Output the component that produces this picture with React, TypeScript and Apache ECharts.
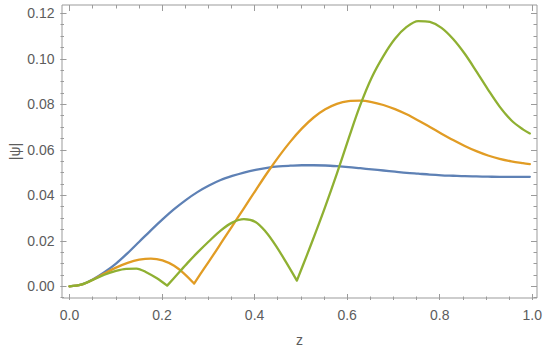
import React, { useEffect, useRef } from "react";
import * as echarts from "echarts";

const zBlue = [0, 0.025, 0.05, 0.075, 0.1, 0.125, 0.15, 0.175, 0.2, 0.225, 0.25, 0.275, 0.3, 0.325, 0.35, 0.375, 0.4, 0.425, 0.45, 0.475, 0.5, 0.525, 0.55, 0.575, 0.6, 0.625, 0.65, 0.675, 0.7, 0.725, 0.75, 0.775, 0.8, 0.825, 0.85, 0.875, 0.9, 0.925, 0.95, 0.975, 0.99];
const psiBlue = [0, 0.0007, 0.003, 0.0062, 0.01, 0.0146, 0.0196, 0.0246, 0.0294, 0.0339, 0.0379, 0.0414, 0.0443, 0.0467, 0.0485, 0.05, 0.0512, 0.0521, 0.0527, 0.053, 0.0532, 0.0532, 0.0531, 0.0528, 0.0524, 0.0519, 0.0514, 0.0509, 0.0504, 0.0499, 0.0495, 0.0491, 0.0488, 0.0486, 0.0484, 0.0483, 0.0482, 0.0481, 0.0481, 0.0481, 0.0481];

const zOrange = [0, 0.025, 0.05, 0.075, 0.1, 0.125, 0.15, 0.175, 0.2, 0.225, 0.247, 0.268, 0.29, 0.31, 0.33, 0.35, 0.375, 0.4, 0.425, 0.45, 0.475, 0.5, 0.525, 0.55, 0.575, 0.6, 0.625, 0.65, 0.675, 0.7, 0.725, 0.75, 0.775, 0.8, 0.825, 0.85, 0.875, 0.9, 0.925, 0.95, 0.975, 0.99];
const psiOrange = [0, 0.0007, 0.0029, 0.0056, 0.0082, 0.0103, 0.0117, 0.0122, 0.0114, 0.009, 0.0055, 0.0012, 0.008, 0.014, 0.0203, 0.0265, 0.0343, 0.0421, 0.0498, 0.057, 0.0636, 0.0694, 0.0742, 0.0778, 0.0802, 0.0814, 0.0816, 0.081, 0.0797, 0.0779, 0.0756, 0.0729, 0.07, 0.0671, 0.0643, 0.0617, 0.0594, 0.0575, 0.056, 0.0549, 0.0541, 0.0537];
const orangeZeros = [0.268];

const zGreen = [0, 0.025, 0.05, 0.075, 0.1, 0.122, 0.144, 0.166, 0.188, 0.21, 0.232, 0.254, 0.276, 0.3, 0.325, 0.35, 0.375, 0.4, 0.422, 0.444, 0.466, 0.489, 0.51, 0.53, 0.55, 0.575, 0.6, 0.625, 0.65, 0.675, 0.7, 0.725, 0.75, 0.775, 0.8, 0.825, 0.85, 0.875, 0.9, 0.925, 0.95, 0.975, 0.99];
const psiGreen = [0, 0.0007, 0.0028, 0.0051, 0.0068, 0.0077, 0.0078, 0.0061, 0.0035, 0.0003, 0.0053, 0.0103, 0.015, 0.0198, 0.0245, 0.028, 0.0295, 0.0283, 0.024, 0.0178, 0.0105, 0.0025, 0.0134, 0.024, 0.035, 0.0495, 0.0648, 0.0795, 0.0918, 0.1012, 0.1088, 0.114, 0.1166, 0.1162, 0.1136, 0.1087, 0.1022, 0.0945, 0.0865, 0.079, 0.073, 0.069, 0.0672];
const greenZeros = [0.21, 0.489];

const xTickLabels = ["0.0", "0.2", "0.4", "0.6", "0.8", "1.0"];
const yTickLabels = ["0.00", "0.02", "0.04", "0.06", "0.08", "0.10", "0.12"];

const FRAME = "#9b9b9b";
const LABEL = "#5c5c5c";
const FONT = "'Liberation Sans', Arial, sans-serif";

// pairs the values; at each zero of psi (a cusp of |psi|) the curve is broken so the cusp stays sharp
const pair = (xs: number[], ys: number[], zeros: number[] = []) => {
  const out: any[] = [];
  xs.forEach((x, i) => {
    out.push([x, ys[i]]);
    if (zeros.includes(x)) {
      out.push([x, null]);
      out.push([x, ys[i]]);
    }
  });
  return out;
};

export default function App() {
  const ref = useRef<HTMLDivElement>(null);
  useEffect(() => {
    if (!ref.current) return;
    const chart = echarts.init(ref.current, undefined, { renderer: "svg" });
    const hiddenX = (gridIndex: number, extra: any = {}) => ({
      type: "value", gridIndex, min: 0, max: 1, show: false, ...extra,
    });
    const hiddenY = (gridIndex: number, extra: any = {}) => ({
      type: "value", gridIndex, min: 0, max: 0.12, show: false, ...extra,
    });
    const tickStyle = { color: FRAME, width: 1 };
    const line = (xs: number[], ys: number[], zeros: number[], color: string) => ({
      type: "line", xAxisIndex: 0, yAxisIndex: 0, data: pair(xs, ys, zeros),
      smooth: 0.33, showSymbol: false, clip: false, connectNulls: false,
      lineStyle: { color, width: 2.3, join: "round", cap: "round" }, itemStyle: { color },
    });
    chart.setOption({
      animation: false,
      backgroundColor: "#ffffff",
      textStyle: { fontFamily: FONT },
      grid: [
        { left: 69.5, right: 10.5, top: 13.3, bottom: 65.7 },
        { left: 69.5, right: 10.5, top: 5, bottom: 52 },
        { left: 60.5, right: 8, top: 13.3, bottom: 65.7 },
        { left: 60.5, right: 8, top: 13.3, bottom: 54.3 },
        { left: 60.5, right: 8, top: 5, bottom: 52, show: true, borderColor: FRAME, borderWidth: 1, backgroundColor: "transparent" },
      ],
      xAxis: [
        hiddenX(0),
        {
          type: "value", gridIndex: 1, min: 0, max: 1, interval: 0.2, position: "bottom",
          axisLine: { show: false },
          axisTick: { show: true, inside: true, length: 6, lineStyle: tickStyle },
          minorTick: { show: true, splitNumber: 4, length: 3.5, lineStyle: tickStyle },
          splitLine: { show: false },
          axisLabel: {
            show: true, margin: 8, color: LABEL, fontSize: 14, fontFamily: FONT,
            formatter: (v: number) => xTickLabels[Math.round(v / 0.2)] ?? "",
          },
        },
        {
          type: "value", gridIndex: 1, min: 0, max: 1, interval: 0.2, position: "top",
          axisLine: { show: false },
          axisTick: { show: true, inside: true, length: 6, lineStyle: tickStyle },
          minorTick: { show: true, splitNumber: 4, length: 3.5, lineStyle: tickStyle },
          splitLine: { show: false },
          axisLabel: { show: false },
        },
        hiddenX(2),
        hiddenX(3),
        {
          type: "value", gridIndex: 4, min: 0, max: 1, position: "bottom",
          name: "z", nameLocation: "middle", nameGap: 35,
          nameTextStyle: { color: LABEL, fontSize: 14, fontFamily: FONT },
          axisLine: { show: false }, axisTick: { show: false }, axisLabel: { show: false }, splitLine: { show: false },
        },
      ],
      yAxis: [
        hiddenY(0),
        hiddenY(1),
        {
          type: "value", gridIndex: 2, min: 0, max: 0.12, interval: 0.02, position: "left",
          axisLine: { show: false },
          axisTick: { show: true, inside: true, length: 6, lineStyle: tickStyle },
          splitLine: { show: false },
          axisLabel: {
            show: true, margin: 6, color: LABEL, fontSize: 14, fontFamily: FONT,
            formatter: (v: number) => yTickLabels[Math.round(v / 0.02)] ?? "",
          },
        },
        {
          type: "value", gridIndex: 2, min: 0, max: 0.12, interval: 0.02, position: "right",
          axisLine: { show: false },
          axisTick: { show: true, inside: true, length: 6, lineStyle: tickStyle },
          splitLine: { show: false },
          axisLabel: { show: false },
        },
        {
          type: "value", gridIndex: 3, min: -0.005, max: 0.12, interval: 0.005, position: "left",
          axisLine: { show: false },
          axisTick: { show: true, inside: true, length: 3.5, lineStyle: tickStyle },
          splitLine: { show: false },
          axisLabel: { show: false },
        },
        {
          type: "value", gridIndex: 3, min: -0.005, max: 0.12, interval: 0.005, position: "right",
          axisLine: { show: false },
          axisTick: { show: true, inside: true, length: 3.5, lineStyle: tickStyle },
          splitLine: { show: false },
          axisLabel: { show: false },
        },
        {
          type: "value", gridIndex: 4, min: 0, max: 1, position: "left",
          name: "|ψ|", nameLocation: "middle", nameGap: 40, nameRotate: 90,
          nameTextStyle: { color: LABEL, fontSize: 14, fontFamily: FONT },
          axisLine: { show: false }, axisTick: { show: false }, axisLabel: { show: false }, splitLine: { show: false },
        },
      ],
      series: [
        line(zBlue, psiBlue, [], "#5E81B5"),
        line(zOrange, psiOrange, orangeZeros, "#E19C24"),
        line(zGreen, psiGreen, greenZeros, "#8FB032"),
      ],
    });
    return () => chart.dispose();
  }, []);
  return <div ref={ref} style={{ width: 545, height: 352, position: "absolute", left: 0, top: 0 }} />;
}
